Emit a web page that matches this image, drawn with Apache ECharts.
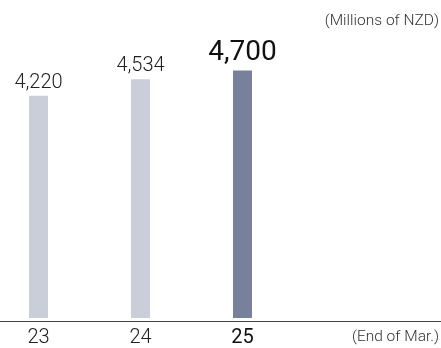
<!DOCTYPE html>
<html><head><meta charset="utf-8">
<script src="https://cdn.jsdelivr.net/npm/echarts@6/dist/echarts.min.js"></script>
<style>html,body{margin:0;padding:0;background:#fff}#c{width:441px;height:348px}</style>
</head><body><div id="c"></div>
<script>
const categories = ['23', '24', '25', ''];
const values = [4220, 4534, 4700, null];
const unitLabel = '(Millions of NZD)';
const periodLabel = '(End of Mar.)';

const chart = echarts.init(document.getElementById('c'), null, {renderer: 'canvas'});
const FONT = 'Roboto, "Liberation Sans", sans-serif';
const lightColor = '#c9ced8';
const darkColor = '#77819b';

chart.setOption({
  animation: false,
  grid: {left: 38.5, right: 96.5, top: 2, bottom: 27, containLabel: false},
  xAxis: {
    type: 'category', data: categories, boundaryGap: false,
    axisLine: {show: false},
    axisTick: {show: false},
    axisLabel: {
      margin: 10, fontFamily: FONT, fontSize: 20, fontWeight: 300, color: '#222',
      formatter: v => v === '25' ? '{b|' + v + '}' : v,
      rich: {b: {fontFamily: FONT, fontSize: 20, fontWeight: 400, color: '#111'}}
    }
  },
  yAxis: {type: 'value', min: 0, max: 6000, show: false, splitLine: {show: false}},
  series: [{
    type: 'bar', barWidth: 19,
    data: values.map((v, i) => ({
      value: v,
      itemStyle: {color: i === 2 ? darkColor : lightColor},
      label: i === 2 ? {fontSize: 28, fontWeight: 400, color: '#111', distance: 3} : {}
    })),
    label: {
      show: true, position: 'top', distance: 3, fontFamily: FONT, fontSize: 20, fontWeight: 300, color: '#222',
      formatter: p => p.value == null ? '' : p.value.toLocaleString('en-US')
    }
  }],
  graphic: [
    {type: 'line', shape: {x1: 0, y1: 321.5, x2: 441, y2: 321.5}, style: {stroke: '#444', lineWidth: 1}, z: 10},
    {type: 'text', right: 2, top: 13, style: {text: unitLabel, font: '300 15.5px ' + FONT, fill: '#333'}},
    {type: 'text', right: 2, top: 329, style: {text: periodLabel, font: '300 15.5px ' + FONT, fill: '#333'}}
  ]
});
</script></body></html>
